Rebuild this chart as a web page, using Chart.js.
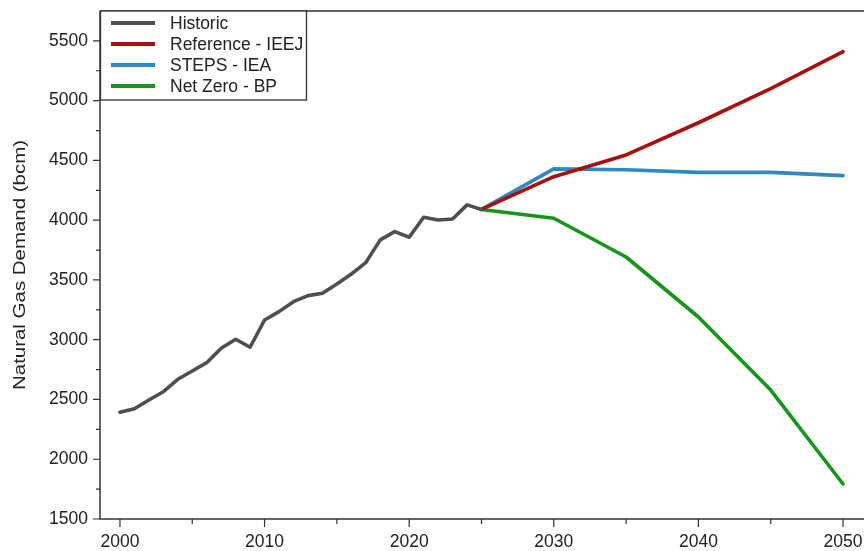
<!DOCTYPE html>
<html>
<head>
<meta charset="utf-8">
<title>Natural Gas Demand Scenarios</title>
<script src="https://cdn.jsdelivr.net/npm/chart.js@4/dist/chart.umd.min.js"></script>
<style>
  html, body { margin: 0; padding: 0; background: #ffffff; }
  #wrap { width: 864px; height: 551px; }
</style>
</head>
<body>
<div id="wrap"><canvas id="chart" width="864" height="551"></canvas></div>
<script>
// ---- data (bcm) ----
const histYears = [2000, 2001, 2002, 2003, 2004, 2005, 2006, 2007, 2008, 2009,
                   2010, 2011, 2012, 2013, 2014, 2015, 2016, 2017, 2018, 2019,
                   2020, 2021, 2022, 2023, 2024, 2025];
const historic = [2393, 2423, 2496, 2565, 2669, 2738, 2808, 2928, 3004, 2937,
                  3165, 3235, 3318, 3369, 3389, 3466, 3550, 3645, 3835, 3904,
                  3857, 4025, 4002, 4010, 4128, 4090];

const projYears = [2025, 2030, 2035, 2040, 2045, 2050];
const referenceIEEJ = [4090, 4364, 4546, 4815, 5100, 5410];
const stepsIEA      = [4090, 4429, 4422, 4400, 4400, 4373];
const netZeroBP     = [4090, 4016, 3692, 3190, 2579, 1793];

const xMajorTicks = [2000, 2010, 2020, 2030, 2040, 2050];
const xMinorTicks = [2005, 2015, 2025, 2035, 2045];
const yMajorTicks = [1500, 2000, 2500, 3000, 3500, 4000, 4500, 5000, 5500];
const yMinorTicks = [1750, 2250, 2750, 3250, 3750, 4250, 4750, 5250];

const yTitle = 'Natural Gas Demand (bcm)';

const FONT = "'Liberation Sans', Arial, Helvetica, sans-serif";
const FONT_SIZE = 17.5;
const TEXT = '#222222';
const AXIS = '#333333';

const toPoints = (xs, ys) => xs.map((x, i) => ({ x: x, y: ys[i] }));

// Axis frame, outward major/minor tick marks and the rotated axis title
const framePlugin = {
  id: 'frame',
  afterDraw(chart) {
    const { ctx, chartArea: a, scales: { x, y } } = chart;
    ctx.save();
    ctx.strokeStyle = AXIS;
    ctx.lineWidth = 1.5;
    ctx.beginPath();
    ctx.moveTo(a.left, a.top); ctx.lineTo(a.left, a.bottom);
    ctx.lineTo(chart.width, a.bottom);
    ctx.moveTo(a.left, a.top); ctx.lineTo(chart.width, a.top);
    ctx.stroke();

    ctx.lineWidth = 1.2;
    ctx.beginPath();
    xMajorTicks.forEach(v => { const px = x.getPixelForValue(v); ctx.moveTo(px, a.bottom); ctx.lineTo(px, a.bottom + 8); });
    xMinorTicks.forEach(v => { const px = x.getPixelForValue(v); ctx.moveTo(px, a.bottom); ctx.lineTo(px, a.bottom + 5); });
    yMajorTicks.forEach(v => { const py = y.getPixelForValue(v); ctx.moveTo(a.left, py); ctx.lineTo(a.left - 7, py); });
    yMinorTicks.forEach(v => { const py = y.getPixelForValue(v); ctx.moveTo(a.left, py); ctx.lineTo(a.left - 4, py); });
    ctx.stroke();

    // y-axis title, centred on the plot height
    ctx.fillStyle = TEXT;
    ctx.font = '17px ' + FONT;
    ctx.textAlign = 'center';
    ctx.textBaseline = 'alphabetic';
    const w = ctx.measureText(yTitle).width;
    ctx.translate(25, (a.top + a.bottom) / 2);
    ctx.rotate(-Math.PI / 2);
    ctx.scale(250 / w, 1);
    ctx.fillText(yTitle, 0, 0);
    ctx.restore();
  }
};

// Boxed legend in the upper-left corner of the plot
const boxLegendPlugin = {
  id: 'boxLegend',
  afterDraw(chart) {
    const { ctx, chartArea: a } = chart;
    const boxW = 206, boxH = 89, rowH = 21;
    ctx.save();
    ctx.fillStyle = '#ffffff';
    ctx.fillRect(a.left, a.top, boxW, boxH);
    ctx.strokeStyle = AXIS;
    ctx.lineWidth = 1.3;
    ctx.strokeRect(a.left + 0.5, a.top, boxW, boxH);
    ctx.font = FONT_SIZE + 'px ' + FONT;
    ctx.textBaseline = 'middle';
    ctx.textAlign = 'left';
    chart.data.datasets.forEach((ds, i) => {
      const yy = a.top + 12 + i * rowH;
      ctx.strokeStyle = ds.borderColor;
      ctx.lineWidth = 4;
      ctx.lineCap = 'butt';
      ctx.beginPath();
      ctx.moveTo(a.left + 11, yy); ctx.lineTo(a.left + 55, yy);
      ctx.stroke();
      ctx.fillStyle = TEXT;
      ctx.fillText(ds.label, a.left + 70, yy + 1);
    });
    ctx.restore();
  }
};

const lineStyle = { borderWidth: 3.6, pointRadius: 0, tension: 0, fill: false,
                    borderJoinStyle: 'round', borderCapStyle: 'round' };

new Chart(document.getElementById('chart'), {
  type: 'line',
  data: {
    datasets: [
      Object.assign({ label: 'Historic', data: toPoints(histYears, historic), borderColor: '#4f4f4f' }, lineStyle),
      Object.assign({ label: 'Reference - IEEJ', data: toPoints(projYears, referenceIEEJ), borderColor: '#a8100f' }, lineStyle),
      Object.assign({ label: 'STEPS - IEA', data: toPoints(projYears, stepsIEA), borderColor: '#2e88c4' }, lineStyle),
      Object.assign({ label: 'Net Zero - BP', data: toPoints(projYears, netZeroBP), borderColor: '#15961b' }, lineStyle)
    ]
  },
  options: {
    responsive: false,
    animation: false,
    events: [],
    layout: { padding: { top: 11, right: 0, left: 0, bottom: 0 } },
    plugins: { legend: { display: false }, tooltip: { enabled: false }, title: { display: false } },
    scales: {
      x: {
        type: 'linear',
        min: 1998.62,
        max: 2051.45,
        grid: { display: false },
        border: { display: false },
        afterBuildTicks: s => { s.ticks = xMajorTicks.map(v => ({ value: v })); },
        afterFit: s => { s.height = 32; s.paddingLeft = 0; s.paddingRight = 0; },
        ticks: { color: TEXT, padding: 5, maxRotation: 0, autoSkip: false,
                 font: { family: FONT, size: FONT_SIZE }, callback: v => String(v) }
      },
      y: {
        type: 'linear',
        min: 1500,
        max: 5750,
        grid: { display: false },
        border: { display: false },
        afterBuildTicks: s => { s.ticks = yMajorTicks.map(v => ({ value: v })); },
        afterFit: s => { s.width = 100; s.paddingTop = 0; s.paddingBottom = 0; },
        ticks: { color: TEXT, padding: 4, autoSkip: false,
                 font: { family: FONT, size: FONT_SIZE }, callback: v => String(v) }
      }
    }
  },
  plugins: [framePlugin, boxLegendPlugin]
});
</script>
</body>
</html>
